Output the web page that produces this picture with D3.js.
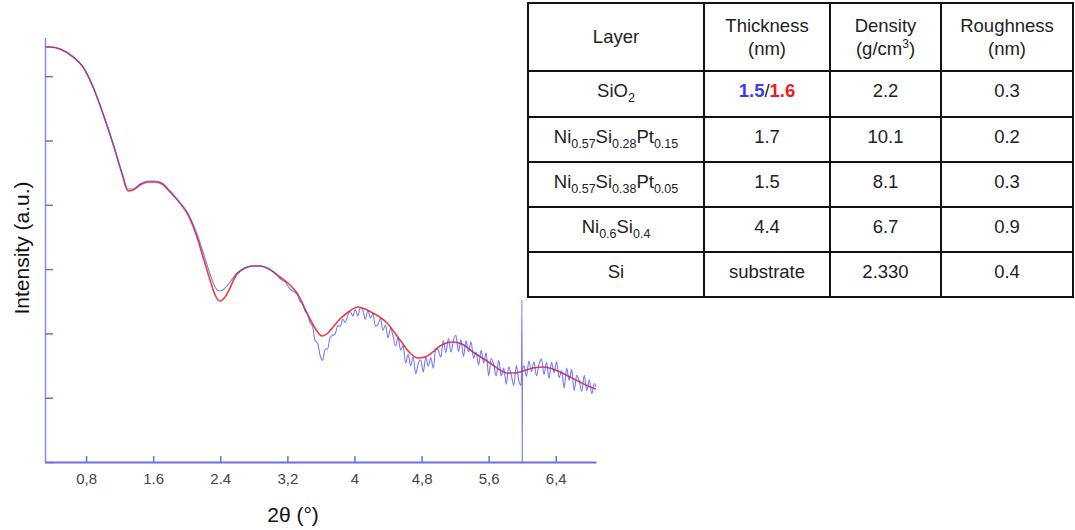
<!DOCTYPE html>
<html>
<head>
<meta charset="utf-8">
<script src="https://cdn.jsdelivr.net/npm/d3@7"></script>
<style>
  body { margin: 0; background: #fff; }
  svg { display: block; font-family: 'Liberation Sans', Arial, sans-serif; }
</style>
</head>
<body>
<svg id="chart" width="1075" height="530"></svg>
<script>
// 2theta in degrees, intensity as log10 (a.u.)
const FIT_X = [0.31, 0.37, 0.49, 0.645, 0.764, 0.883, 1.003, 1.122, 1.229, 1.30, 1.36, 1.444, 1.539, 1.622, 1.706, 1.801, 1.92, 2.004, 2.123, 2.194, 2.278, 2.338, 2.397, 2.457, 2.60, 2.695, 2.79, 2.874, 2.957, 3.112, 3.231, 3.315, 3.434, 3.529, 3.613, 3.684, 3.744, 3.827, 3.911, 4.042, 4.125, 4.221, 4.388, 4.543, 4.662, 4.757, 4.841, 4.936, 5.019, 5.174, 5.282, 5.413, 5.615, 5.734, 5.818, 5.913, 6.009, 6.128, 6.247, 6.366, 6.45, 6.569, 6.688, 6.783, 6.879]
const FIT_Y = [6.454, 6.454, 6.423, 6.299, 6.143, 5.832, 5.412, 4.946, 4.479, 4.215, 4.230, 4.308, 4.355, 4.355, 4.323, 4.199, 4.028, 3.872, 3.499, 3.188, 2.830, 2.597, 2.504, 2.566, 2.924, 3.017, 3.048, 3.048, 3.017, 2.877, 2.753, 2.628, 2.317, 2.084, 1.960, 2.006, 2.100, 2.224, 2.317, 2.411, 2.379, 2.317, 2.162, 1.897, 1.695, 1.617, 1.633, 1.711, 1.804, 1.866, 1.835, 1.711, 1.540, 1.431, 1.384, 1.384, 1.415, 1.462, 1.477, 1.446, 1.400, 1.322, 1.244, 1.182, 1.135]

const MEAS_X = [0.31, 0.37, 0.49, 0.645, 0.764, 0.883, 1.003, 1.122, 1.229, 1.30, 1.36, 1.444, 1.539, 1.622, 1.706, 1.801, 1.92, 2.004, 2.123, 2.194, 2.278, 2.338, 2.385, 2.445, 2.516, 2.60, 2.695, 2.79, 2.874, 2.957, 3.053, 3.112, 3.172, 3.231, 3.291,
  3.32, 3.35, 3.38, 3.41, 3.44, 3.47, 3.50, 3.53, 3.56, 3.59, 3.62, 3.65, 3.68, 3.71, 3.74, 3.77, 3.80, 3.83, 3.86, 3.89, 3.92, 3.95, 3.98,
  4.01, 4.04, 4.07, 4.10, 4.13, 4.16, 4.19, 4.22, 4.25, 4.28, 4.31, 4.34, 4.37, 4.40, 4.43, 4.46, 4.49, 4.52, 4.55, 4.58, 4.61, 4.64, 4.67, 4.70, 4.73, 4.76, 4.79, 4.82, 4.85, 4.88, 4.91, 4.94, 4.97,
  5.00, 5.03, 5.06, 5.09, 5.12, 5.15, 5.18, 5.21, 5.24, 5.27, 5.30, 5.33, 5.36, 5.39, 5.42, 5.45, 5.48, 5.51, 5.54, 5.57, 5.60, 5.63, 5.66, 5.69, 5.72, 5.75, 5.78, 5.81, 5.84, 5.87, 5.90, 5.93, 5.96, 5.99,
  5.997, 6.00, 6.003, 6.02, 6.05, 6.08, 6.11, 6.14, 6.17, 6.20, 6.23, 6.26, 6.29, 6.32, 6.35, 6.38, 6.41, 6.44, 6.47, 6.50, 6.53, 6.56, 6.59, 6.62, 6.65, 6.68, 6.71, 6.74, 6.77, 6.80, 6.83, 6.86, 6.88]
const MEAS_Y = [6.454, 6.454, 6.423, 6.299, 6.143, 5.832, 5.412, 4.946, 4.495, 4.246, 4.246, 4.323, 4.370, 4.370, 4.339, 4.215, 4.028, 3.888, 3.546, 3.266, 2.924, 2.722, 2.659, 2.690, 2.799, 2.939, 3.017, 3.048, 3.048, 3.017, 2.939, 2.85, 2.80, 2.69, 2.64,
  2.60, 2.50, 2.46, 2.35, 2.30, 2.17, 2.11, 1.89, 1.85, 1.66, 1.58, 1.75, 1.76, 1.94, 1.97, 1.99, 2.12, 2.11, 2.22, 2.17, 2.28, 2.34, 2.27,
  2.37, 2.27, 2.40, 2.36, 2.22, 2.36, 2.24, 2.31, 2.11, 2.14, 2.23, 2.05, 2.13, 1.93, 2.08, 1.96, 1.80, 1.94, 1.74, 1.81, 1.54, 1.67, 1.50, 1.64, 1.37, 1.53, 1.59, 1.40, 1.63, 1.49, 1.62, 1.46, 1.77,
  1.74, 1.63, 1.89, 1.70, 1.92, 1.71, 1.89, 1.97, 1.72, 1.90, 1.64, 1.89, 1.71, 1.87, 1.61, 1.71, 1.51, 1.74, 1.54, 1.70, 1.34, 1.61, 1.52, 1.34, 1.58, 1.34, 1.46, 1.21, 1.48, 1.35, 1.19, 1.50, 1.26, 1.19,
  2.52, 0.0, 1.40, 1.50, 1.33, 1.57, 1.41, 1.56, 1.34, 1.52, 1.60, 1.36, 1.55, 1.30, 1.55, 1.39, 1.56, 1.31, 1.42, 1.15, 1.46, 1.27, 1.44, 1.11, 1.35, 1.26, 1.10, 1.35, 1.11, 1.28, 1.06, 1.22, 1.17]

const X_TICKS = [0.8, 1.6, 2.4, 3.2, 4.0, 4.8, 5.6, 6.4]
const X_TICK_LABELS = ['0,8', '1.6', '2.4', '3,2', '4', '4,8', '5,6', '6,4']
const Y_TICKS = [0, 1, 2, 3, 4, 5, 6]

// table
const HEADERS = [['Layer'], ['Thickness', '(nm)'], ['Density', '(g/cm3)'], ['Roughness', '(nm)']]
const LAYERS = [
    [['SiO', '2']],
    [['Ni', '0.57'], ['Si', '0.28'], ['Pt', '0.15']],
    [['Ni', '0.57'], ['Si', '0.38'], ['Pt', '0.05']],
    [['Ni', '0.6'], ['Si', '0.4']],
    [['Si', '']]
]
const THICKNESS = ['1.5/1.6', '1.7', '1.5', '4.4', 'substrate']
const DENSITY = ['2.2', '10.1', '8.1', '6.7', '2.330']
const ROUGHNESS = ['0.3', '0.2', '0.3', '0.9', '0.4']

const svg = d3.select('#chart')
const axisColor = '#6f6fe2'

const x = d3.scaleLinear().domain([0.31, 6.88]).range([45, 596])
const y = d3.scaleLinear().domain([0, 6.6]).range([462, 37.6])

function createPlot() {
    const line = d3.line()
        .x(d => x(d[0]))
        .y(d => y(d[1]))
        .curve(d3.curveMonotoneX)

    const fit = FIT_X.map((v, i) => [v, FIT_Y[i]])
    const meas = MEAS_X.map((v, i) => [v, MEAS_Y[i]])

    svg.append('path')
        .datum(fit)
        .attr('d', line)
        .attr('fill', 'none')
        .attr('stroke', '#f23a3a')
        .attr('stroke-width', 1.6)

    svg.append('path')
        .datum(meas)
        .attr('d', line)
        .attr('fill', 'none')
        .attr('stroke', '#4c4cf2')
        .attr('stroke-opacity', 0.75)
        .attr('stroke-width', 1.1)

    const xAxis = svg.append('g')
        .attr('transform', `translate(0,${y(0)})`)
        .call(d3.axisBottom(x)
            .tickValues(X_TICKS)
            .tickFormat((d, i) => X_TICK_LABELS[i])
            .tickSizeInner(-6)
            .tickSizeOuter(0)
            .tickPadding(11))
    xAxis.select('.domain').attr('stroke', axisColor).attr('stroke-width', 2)
    xAxis.selectAll('.tick line').attr('stroke', axisColor).attr('stroke-width', 1.5)
    xAxis.selectAll('.tick text')
        .attr('fill', '#444')
        .style('font-size', '15px')
        .style('font-family', "'Liberation Sans', Arial, sans-serif")

    const yAxis = svg.append('g')
        .attr('transform', `translate(${x(0.31)},0)`)
        .call(d3.axisLeft(y)
            .tickValues(Y_TICKS)
            .tickFormat('')
            .tickSizeInner(-8)
            .tickSizeOuter(0))
    yAxis.select('.domain').attr('stroke', axisColor).attr('stroke-width', 1.5).attr('stroke-opacity', 0.8)
    yAxis.selectAll('.tick line').attr('stroke', axisColor).attr('stroke-width', 1.5)

    svg.append('text')
        .attr('x', 293)
        .attr('y', 522)
        .attr('text-anchor', 'middle')
        .style('font-size', '21px')
        .attr('fill', '#111')
        .text('2θ (°)')

    svg.append('text')
        .attr('transform', 'translate(29,248) rotate(-90)')
        .attr('text-anchor', 'middle')
        .style('font-size', '21px')
        .attr('fill', '#111')
        .text('Intensity (a.u.)')
}

function createTable() {
    const colX = [528, 704, 830, 941, 1073]
    const rowY = [3, 71, 117, 162, 207, 252, 297]
    const g = svg.append('g')
    const fontSize = 18.5

    g.selectAll('.hline')
        .data(rowY)
        .enter().append('line')
        .attr('x1', colX[0] - 1).attr('x2', colX[4] + 1)
        .attr('y1', d => d).attr('y2', d => d)
        .attr('stroke', '#111').attr('stroke-width', 2)

    g.selectAll('.vline')
        .data(colX)
        .enter().append('line')
        .attr('y1', rowY[0]).attr('y2', rowY[6])
        .attr('x1', d => d).attr('x2', d => d)
        .attr('stroke', '#111').attr('stroke-width', 2)

    const cx = i => (colX[i] + colX[i + 1]) / 2
    const cy = r => (rowY[r] + rowY[r + 1]) / 2

    HEADERS.forEach((lines, i) => {
        lines.forEach((t, j) => {
            const base = lines.length === 1 ? cy(0) + 6 : cy(0) - 5 + j * 23
            const text = g.append('text')
                .attr('x', cx(i)).attr('y', base)
                .attr('text-anchor', 'middle')
                .style('font-size', `${fontSize}px`)
                .attr('fill', '#222')
            if (t.endsWith('3)')) {
                text.append('tspan').text(t.slice(0, -2))
                text.append('tspan').attr('dy', -7).style('font-size', '12px').text('3')
                text.append('tspan').attr('dy', 7).text(')')
            } else {
                text.text(t)
            }
        })
    })

    LAYERS.forEach((parts, r) => {
        const base = cy(r + 1) + 3
        const text = g.append('text')
            .attr('x', cx(0)).attr('y', base)
            .attr('text-anchor', 'middle')
            .style('font-size', `${fontSize}px`)
            .attr('fill', '#222')
        parts.forEach(([el, sub], k) => {
            text.append('tspan').attr('dy', k === 0 ? 0 : -5).text(el)
            if (sub) text.append('tspan').attr('dy', 5).style('font-size', '12.5px').text(sub)
        })

        const th = g.append('text')
            .attr('x', cx(1)).attr('y', base)
            .attr('text-anchor', 'middle')
            .style('font-size', `${fontSize}px`)
            .attr('fill', '#222')
        if (r === 0) {
            const [a, b] = THICKNESS[r].split('/')
            th.append('tspan').attr('fill', '#3b3bf5').attr('font-weight', 'bold').text(a)
            th.append('tspan').text('/')
            th.append('tspan').attr('fill', '#f01c1c').attr('font-weight', 'bold').text(b)
        } else {
            th.text(THICKNESS[r])
        }

        g.append('text')
            .attr('x', cx(2)).attr('y', base)
            .attr('text-anchor', 'middle')
            .style('font-size', `${fontSize}px`)
            .attr('fill', '#222')
            .text(DENSITY[r])

        g.append('text')
            .attr('x', cx(3)).attr('y', base)
            .attr('text-anchor', 'middle')
            .style('font-size', `${fontSize}px`)
            .attr('fill', '#222')
            .text(ROUGHNESS[r])
    })
}

createPlot()
createTable()
</script>
</body>
</html>
